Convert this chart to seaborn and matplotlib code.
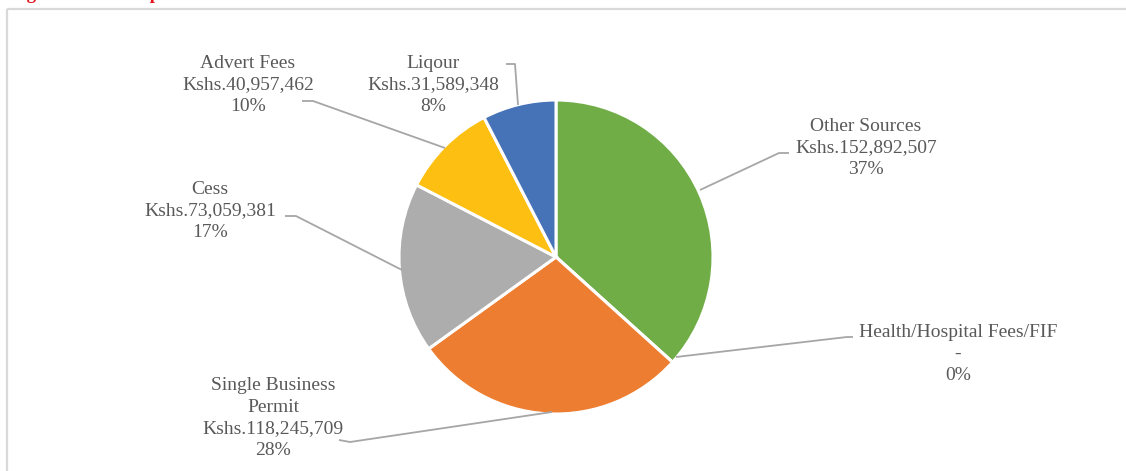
import matplotlib
matplotlib.use("Agg")
import matplotlib.pyplot as plt
import seaborn as sns
from matplotlib.patches import Rectangle

sns.set_theme(style="white")
plt.rcParams["font.family"] = ["Liberation Serif", "DejaVu Serif"]

# Revenue sources (clockwise from 12 o'clock)
sources = ["Other Sources", "Health/Hospital Fees/FIF", "Single Business\nPermit",
           "Cess", "Advert Fees", "Liqour"]
amounts = [152892507, 0, 118245709, 73059381, 40957462, 31589348]
amount_labels = ["Kshs.152,892,507", "-", "Kshs.118,245,709",
                 "Kshs.73,059,381", "Kshs.40,957,462", "Kshs.31,589,348"]
pct_labels = ["37%", "0%", "28%", "17%", "10%", "8%"]
colors = ["#70AD47", "#7F7F7F", "#ED7D31", "#ADADAD", "#FDBF12", "#4672B8"]

# Layout in pixel-like units (y grows downward)
W, H = 1126, 471
center = (556, 257)
radius = 157
label_xy = [(866, 148), (958, 354), (273, 418), (210, 211), (248, 85), (433, 85)]
leaders = [
    [(789, 153), (779, 153), (700, 190)],
    [(853, 337), (847, 337), (676, 357)],
    [(339, 440), (350, 442), (552, 412)],
    [(285, 216), (296, 216), (402, 270)],
    [(302, 101), (313, 101), (445, 148)],
    [(506, 64), (515, 64), (518, 105)],
]

fig = plt.figure(figsize=(W / 100, H / 100), dpi=100)
ax = fig.add_axes([0, 0, 1, 1])

ax.pie(amounts, colors=colors, center=center, radius=radius,
       startangle=270, counterclock=True,
       wedgeprops=dict(edgecolor="white", linewidth=2.2))

ax.set_xlim(0, W)
ax.set_ylim(H, 0)
ax.set_aspect("equal")
ax.axis("off")

# chart area border
ax.add_patch(Rectangle((7, 9), W, H, fill=False, edgecolor="#D9D9D9",
                       linewidth=1.6, clip_on=False))

# heading, mostly above the visible area
ax.text(10, -1, "Figure 4.10: Composition of Own Source Revenue", color="#E3141B",
        fontsize=13.5, fontweight="bold", ha="left", va="baseline")

text_color = "#595959"
for name, amt, pct, (x, y) in zip(sources, amount_labels, pct_labels, label_xy):
    ax.text(x, y, f"{name}\n{amt}\n{pct}", ha="center", va="center",
            color=text_color, fontsize=14, linespacing=1.38)

for pts in leaders:
    xs, ys = zip(*pts)
    ax.plot(xs, ys, color="#A6A6A6", linewidth=1.3, solid_capstyle="butt")

fig.savefig("out.png", dpi=100)
